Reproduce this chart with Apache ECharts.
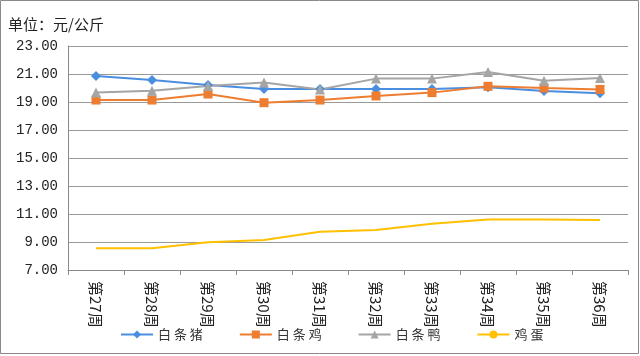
<!DOCTYPE html>
<html><head><meta charset="utf-8">
<script src="https://cdn.jsdelivr.net/npm/echarts@6/dist/echarts.min.js"></script>
<style>html,body{margin:0;padding:0;background:#fff}#c{width:640px;height:356px}</style>
</head><body><div id="c"></div>
<script>
const categories = ['第27周','第28周','第29周','第30周','第31周','第32周','第33周','第34周','第35周','第36周'];
const pork = [20.86, 20.57, 20.21, 19.93, 19.93, 19.93, 19.93, 20.05, 19.79, 19.62];
const chicken = [19.14, 19.14, 19.57, 18.95, 19.14, 19.43, 19.67, 20.12, 20.00, 19.90];
const duck = [19.67, 19.81, 20.14, 20.40, 19.90, 20.67, 20.67, 21.14, 20.52, 20.71];
const egg = [8.55, 8.55, 8.98, 9.14, 9.74, 9.86, 10.31, 10.60, 10.60, 10.57];
const yTicks = [7, 23, 2];

const chart = echarts.init(document.getElementById('c'));
const mk = (name, data, color, symbol, size) => ({
  name, type: 'line', data, symbol, symbolSize: size,
  lineStyle: {color, width: 2}, itemStyle: {color}, animation: false
});
chart.setOption({
  animation: false,
  graphic: [
    {type:'rect', shape:{x:0.5,y:0.5,width:638,height:353}, style:{fill:'none', stroke:'#8a8a8a', lineWidth:1}},
    {type:'text', left:8, top:17, style:{text:'单位：元/公斤', font:'15px "Noto Sans CJK SC"', fill:'#222'}}
  ],
  grid: {left: 68, right: 12, top: 46, bottom: 86},
  legend: {
    bottom: 10, left: 115, itemGap: 36, itemWidth: 32, itemHeight: 10,
    formatter: n => n.split('').join(' '),
    textStyle: {fontSize: 13, color: '#333', fontFamily: 'Noto Sans CJK SC'},
    data: ['白条猪','白条鸡','白条鸭','鸡蛋']
  },
  xAxis: {
    type: 'category', data: categories, boundaryGap: true,
    axisLine: {lineStyle: {color: '#8a8a8a'}},
    axisTick: {show: true, interval: 0, length: 5, lineStyle: {color: '#8a8a8a'}},
    axisLabel: {rotate: -90, interval: 0, fontSize: 15, color: '#222', margin: 11, fontFamily: 'Noto Sans CJK SC'}
  },
  yAxis: {
    type: 'value', min: yTicks[0], max: yTicks[1], interval: yTicks[2],
    axisLine: {show: true, lineStyle: {color: '#8a8a8a'}},
    axisTick: {show: false},
    splitLine: {lineStyle: {color: '#9a9a9a'}},
    axisLabel: {formatter: v => v.toFixed(2), fontSize: 14, color: '#222', margin: 10, fontFamily: 'Liberation Mono'}
  },
  series: [
    mk('白条猪', pork, '#4a8ee0', 'diamond', 10),
    mk('白条鸡', chicken, '#ed7d31', 'rect', 9),
    mk('白条鸭', duck, '#a5a5a5', 'triangle', 10),
    mk('鸡蛋', egg, '#ffc000', 'none', 0)
  ]
});
</script></body></html>
